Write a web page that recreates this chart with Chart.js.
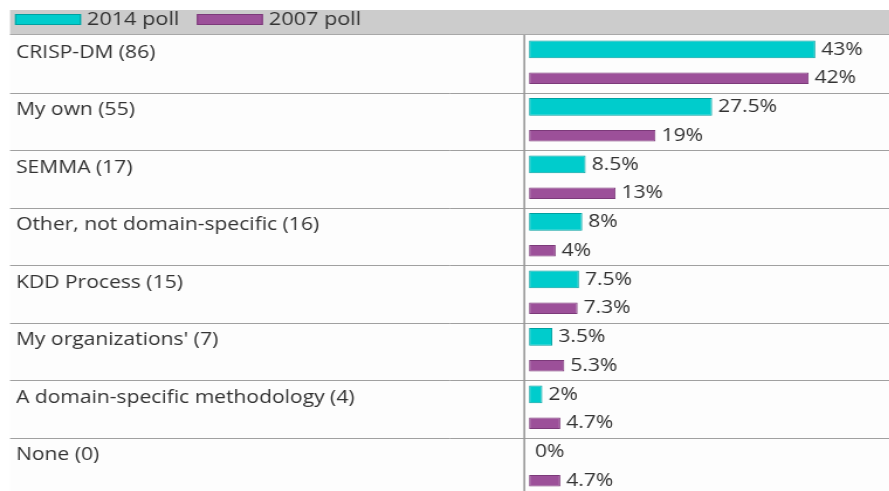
<!DOCTYPE html>
<html>
<head>
<meta charset="utf-8">
<script src="https://cdn.jsdelivr.net/npm/chart.js@4"></script>
<style>
  html, body { margin: 0; padding: 0; background: #fff; overflow: hidden; }
  #wrap { width: 889px; height: 491px; overflow: hidden; }
  /* the source image is stretched sideways, so the canvas is too */
  #chart { transform: scaleX(1.17); transform-origin: 0 0; }
</style>
</head>
<body>
<div id="wrap"><canvas id="chart" width="760" height="495"></canvas></div>
<script>
const SX = 1.17;

const categories = [
  "CRISP-DM (86)",
  "My own (55)",
  "SEMMA (17)",
  "Other, not domain-specific (16)",
  "KDD Process (15)",
  "My organizations' (7)",
  "A domain-specific methodology (4)",
  "None (0)",
];
const poll2014 = [43, 27.5, 8.5, 8, 7.5, 3.5, 2, 0];
const poll2007 = [42, 19, 13, 4, 7.3, 5.3, 4.7, 4.7];

Chart.defaults.font.family = "'Open Sans', sans-serif";
Chart.defaults.color = "#333";

// gray legend band, row lines and the vertical divider
const frame = {
  id: "frame",
  beforeDraw(chart) {
    const { ctx, chartArea, scales } = chart;
    const y = scales.y;
    const x0 = 10 / SX;
    ctx.save();
    ctx.fillStyle = "#fdfdfd";
    ctx.fillRect(x0, chartArea.top, chart.width - x0, chart.height - chartArea.top);
    ctx.fillStyle = "#cccccc";
    ctx.fillRect(x0, 10, chart.width - x0, 25);
    ctx.fillStyle = "#a8a8a8";
    ctx.fillRect(x0, 34, chart.width - x0, 1);

    const half = (y.getPixelForValue(1) - y.getPixelForValue(0)) / 2;
    ctx.strokeStyle = "#a0a0a0";
    ctx.lineWidth = 1;
    for (let i = 1; i < categories.length; i++) {
      const py = Math.round(y.getPixelForValue(i) - half) + 0.5;
      ctx.beginPath();
      ctx.moveTo(x0, py);
      ctx.lineTo(chart.width, py);
      ctx.stroke();
    }
    ctx.strokeStyle = "#999";
    ctx.lineWidth = 1.6;
    ctx.beginPath();
    ctx.moveTo(chartArea.left - 4, chartArea.top);
    ctx.lineTo(chartArea.left - 4, chart.height);
    ctx.stroke();
    ctx.restore();
  },
  afterDraw(chart) {
    // legend inside the band
    const { ctx } = chart;
    ctx.save();
    ctx.font = "18.5px 'Open Sans', sans-serif";
    ctx.textBaseline = "middle";
    let x = 15 / SX;
    const boxW = 66 / SX;
    chart.data.datasets.forEach((ds) => {
      ctx.fillStyle = ds.backgroundColor;
      ctx.fillRect(x, 14, boxW, 11);
      ctx.strokeStyle = ds.borderColor;
      ctx.lineWidth = 1;
      ctx.strokeRect(x + 0.5, 14.5, boxW - 1, 10);
      ctx.fillStyle = "#333";
      ctx.fillText(ds.label, x + 72 / SX, 20);
      x += 72 / SX + ctx.measureText(ds.label).width + 15;
    });
    ctx.restore();
  },
};

// percentage labels at the end of each bar
const valueLabels = {
  id: "valueLabels",
  afterDatasetsDraw(chart) {
    const { ctx } = chart;
    ctx.save();
    ctx.font = "18px 'Open Sans', sans-serif";
    ctx.fillStyle = "#333";
    ctx.textBaseline = "middle";
    chart.data.datasets.forEach((ds, di) => {
      chart.getDatasetMeta(di).data.forEach((bar, i) => {
        ctx.fillText(ds.data[i] + "%", bar.x + 6 / SX, bar.y);
      });
    });
    ctx.restore();
  },
};

new Chart(document.getElementById("chart"), {
  type: "bar",
  data: {
    labels: categories,
    datasets: [
      {
        label: "2014 poll",
        data: poll2014,
        backgroundColor: "#00cccc",
        borderColor: "#00a0a0",
        borderWidth: 1,
        borderSkipped: false,
        categoryPercentage: 1,
        barPercentage: 0.62,
      },
      {
        label: "2007 poll",
        data: poll2007,
        backgroundColor: "#9c5099",
        borderColor: "#7c3a7a",
        borderWidth: 1,
        borderSkipped: false,
        categoryPercentage: 1,
        barPercentage: 0.4,
      },
    ],
  },
  options: {
    indexAxis: "y",
    responsive: false,
    animation: false,
    devicePixelRatio: 1,
    layout: { padding: { left: 16 / SX, top: 35, right: 0, bottom: 0 } },
    plugins: {
      legend: { display: false },
      tooltip: { enabled: false },
    },
    scales: {
      x: { display: false, min: 0, max: 54.1 },
      y: {
        grid: { display: false },
        border: { display: false },
        afterFit: (scale) => {
          scale.width = (529 - 16) / SX;
          scale.paddingTop = 0;
          scale.paddingBottom = 0;
        },
        ticks: {
          autoSkip: false,
          crossAlign: "far",
          color: "#333",
          font: { size: 18, lineHeight: "22px" },
          callback: function (value) {
            return [this.getLabelForValue(value), ""];
          },
        },
      },
    },
  },
  plugins: [frame, valueLabels],
});
</script>
</body>
</html>
